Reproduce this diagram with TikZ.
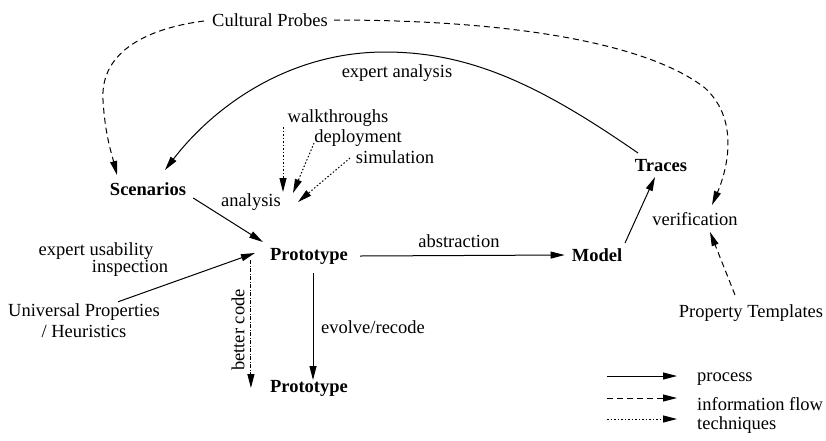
\documentclass[tikz,border=0pt]{standalone}
\usepackage{fontspec}
\setmainfont{Liberation Serif}
\usetikzlibrary{arrows.meta}
\begin{document}
\begin{tikzpicture}[x=1pt,y=-1pt,
  every node/.style={inner sep=0pt,font=\fontsize{18.5}{21}\selectfont},
  stage/.style={font=\fontsize{18.5}{21}\selectfont\bfseries},
  tip/.style={-{Triangle[length=14pt,width=7pt]}},
  proc/.style={tip,line width=1pt},
  info/.style={tip,line width=1pt,dash pattern=on 6pt off 4pt},
  tech/.style={tip,line width=1pt,dash pattern=on 1.5pt off 2pt},
  mixed/.style={tip,line width=1pt,dash pattern=on 4pt off 1.5pt on 1pt off 1.5pt}]
\useasboundingbox (0,0) rectangle (826,440);

% stages
\node[stage] (scen)   at (148,189) {Scenarios};
\node[stage] (proto)  at (309,256) {Prototype};
\node[stage] (proto2) at (309,388) {Prototype};
\node[stage] (model)  at (597,255) {Model};
\node[stage] (traces) at (661,166) {Traces};

% sources and activities
\node (cp)    at (270,20)  {Cultural Probes};
\node (ea)    at (397,73)  {expert analysis};
\node (walk)  at (338,118) {walkthroughs};
\node (dep)   at (358,138) {deployment};
\node (sim)   at (395,157) {simulation};
\node (an)    at (251,202) {analysis};
\node (eu1)   at (96,251)  {expert usability};
\node (eu2)   at (130,268) {inspection};
\node[align=center] (univ) at (84,321) {Universal Properties\\/ Heuristics};
\node (abs)   at (459,241) {abstraction};
\node (evo)   at (373,327) {evolve/recode};
\node[rotate=90] (bc) at (238,330) {better code};
\node (verif) at (695,219) {verification};
\node (pt)    at (751,313) {Property Templates};

% process
\draw[proc] ([shift={(7,9)}]scen.east) -- ([shift={(-7,-14)}]proto.west);
\draw[proc] ([shift={(34,-2)}]univ.north) -- ([shift={(-15,-3)}]proto.west);
\draw[proc] ([shift={(12,0)}]proto.east) -- ([shift={(-7,0)}]model.west);
\draw[proc] ([shift={(4,17)}]proto.center) -- ([shift={(4,-8)}]proto2.center);
\draw[proc] ([shift={(28,-12)}]model.center) -- ([shift={(-6,11)}]traces.center);
\draw[proc] ([shift={(-23,-13)}]traces.center)
  .. controls (540,85) and (470,52) .. (385,52)
  .. controls (290,52) and (215,105) .. ([shift={(17,-19)}]scen.center);
\draw[mixed] ([shift={(-19,4)}]proto.west) -- ([shift={(-19,0)}]proto2.west);

% information flow
\draw[info] ([shift={(-8,1)}]cp.west)
  .. controls (150,28) and (100,50) .. (103,100)
  .. controls (105,135) and (112,155) .. ([shift={(-31,-14)}]scen.center);
\draw[info] ([shift={(6,0)}]cp.east)
  .. controls (520,20) and (650,45) .. (705,88)
  .. controls (742,122) and (725,175) .. ([shift={(17,-14)}]verif.center);
\draw[info] ([shift={(-16,-18)}]pt.center) -- ([shift={(15,13)}]verif.center);

% techniques
\draw[tech] ([shift={(-55,9)}]walk.center) -- ([shift={(32,-10)}]an.center);
\draw[tech] ([shift={(-44,5)}]dep.center) -- ([shift={(42,-9)}]an.center);
\draw[tech] ([shift={(-45,1)}]sim.center) -- ([shift={(47,0)}]an.center);

% legend
\node[anchor=west] (lgp) at (697,379) {process};
\node[anchor=west] (lgi) at (697,404) {information flow};
\node[anchor=west] (lgt) at (697,425) {techniques};
\draw[proc] ([shift={(-90,-3)}]lgp.west) -- ([shift={(-20,-3)}]lgp.west);
\draw[info] ([shift={(-90,-6)}]lgi.west) -- ([shift={(-20,-6)}]lgi.west);
\draw[tech] ([shift={(-90,-6)}]lgt.west) -- ([shift={(-20,-6)}]lgt.west);
\end{tikzpicture}
\end{document}
